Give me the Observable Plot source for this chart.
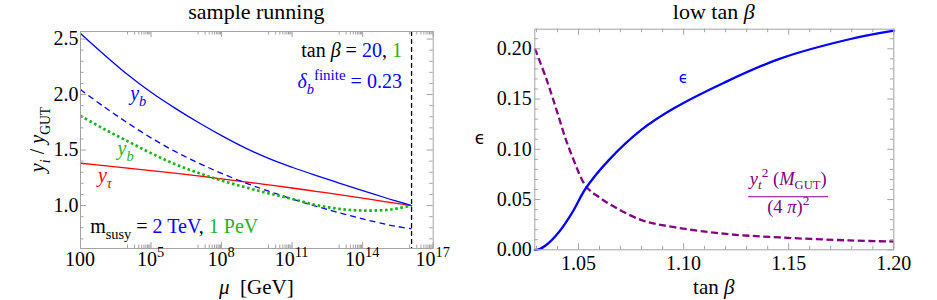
<!DOCTYPE html>
<html>
<head>
<meta charset="utf-8">
<script src="https://cdn.jsdelivr.net/npm/d3@7"></script>
<script src="https://cdn.jsdelivr.net/npm/@observablehq/plot@0.6"></script>
<style>
  html, body { margin: 0; padding: 0; background: #fff; }
  #wrap { display: flex; width: 937px; height: 300px; }
  #wrap svg { display: block; }
</style>
</head>
<body>
<div id="wrap"></div>
<script>
// ---------------- left panel: sample running ----------------
const muGeV      = [1e2, 1e3, 1e4, 1e5, 1e6, 1e7, 1e8, 1e9, 1e10, 1e11, 1e12, 1e13, 1e14, 1e15, 3.2e15, 1.2e16];
const ybSolid    = [2.55, 2.36, 2.18, 2.02, 1.88, 1.75, 1.63, 1.52, 1.425, 1.345, 1.272, 1.203, 1.135, 1.068, 1.036, 1.0];
const ybDashed   = [2.045, 1.89, 1.745, 1.61, 1.49, 1.385, 1.29, 1.205, 1.13, 1.06, 0.995, 0.935, 0.88, 0.83, 0.81, 0.79];
const ybDotted   = [1.808, 1.69, 1.58, 1.472, 1.375, 1.295, 1.225, 1.165, 1.11, 1.06, 1.005, 0.97, 0.955, 0.96, 0.975, 1.0];
const yTauRatio  = [1.381, 1.359, 1.337, 1.315, 1.292, 1.267, 1.241, 1.214, 1.186, 1.158, 1.128, 1.098, 1.066, 1.034, 1.018, 1.0];
const mGUT       = [1.2e16];
const muTickValues = [1e2, 1e5, 1e8, 1e11, 1e14, 1e17];
const muTickLabels = ["100", "10^5", "10^8", "10^11", "10^14", "10^17"];
const ratioTicks   = [1.0, 1.5, 2.0, 2.5];

// ---------------- right panel: low tan beta ----------------
const tanBetaEps = [1.0292, 1.0315, 1.0345, 1.041, 1.047, 1.0534, 1.0643, 1.08, 1.0956, 1.119, 1.1456, 1.1789, 1.2];
const epsilon    = [0, 0.0008, 0.0045, 0.0185, 0.037, 0.061, 0.089, 0.1195, 0.141, 0.166, 0.19, 0.2095, 0.218];
const tanBetaYt  = [1.0292, 1.0347, 1.0394, 1.044, 1.0487, 1.051, 1.0534, 1.056, 1.059, 1.0643, 1.08, 1.0956, 1.119, 1.1456, 1.1789, 1.2];
const ytGutTerm  = [0.2004, 0.170, 0.140, 0.1095, 0.084, 0.0725, 0.0635, 0.058, 0.0535, 0.046, 0.0295, 0.0225, 0.016, 0.0123, 0.0093, 0.0082];
const tanBetaTicks = [1.05, 1.10, 1.15, 1.20];
const epsTicks     = [0.00, 0.05, 0.10, 0.15, 0.20];

// ---------------- styling ----------------
const SERIF  = "'Liberation Serif', 'Times New Roman', serif";
const BLUE   = "#0000ff";
const GREEN  = "#1db31d";
const RED    = "#ff0000";
const PURPLE = "#800080";
const FRAME  = "#a3a3a3";

// rich text helper (real text with tspans for sub/superscripts)
function richText(parts, opt) {
  return (index, scales, values, dims) => {
    const [X, Y] = opt.at(scales, dims);
    const size = opt.size ?? 20;
    const t = d3.create("svg:text")
      .attr("x", X).attr("y", Y)
      .attr("font-family", opt.family ?? SERIF)
      .attr("font-size", size)
      .attr("fill", opt.fill ?? "black")
      .attr("text-anchor", opt.anchor ?? "start")
      .style("white-space", "pre");
    if (opt.rotate) t.attr("transform", `rotate(${opt.rotate} ${X} ${Y})`);
    let shift = 0;
    for (const p of parts) {
      const q = typeof p === "string" ? {t: p} : p;
      const target = q.sub ? (opt.subShift ?? 0.3) * size : q.sup ? -0.42 * size : 0;
      const s = t.append("tspan").text(q.t);
      if (target !== shift) s.attr("dy", target - shift);
      shift = target;
      if (q.sub || q.sup) s.attr("font-size", size * (q.scale ?? 0.72));
      if (q.i) s.attr("font-style", "italic");
      if (q.fill) s.attr("fill", q.fill);
      if (q.family) s.attr("font-family", q.family);
      if (q.dx) s.attr("dx", q.dx);
    }
    return t.node();
  };
}
const frameCenterX = (d) => d.marginLeft + (d.width - d.marginLeft - d.marginRight) / 2;

function frameTicks(xMajor, xMinor, yMajor, yMinor, fw, fh, maj = 6, min = 3.5) {
  const o = {stroke: FRAME, strokeWidth: 1};
  return [
    Plot.ruleX(xMajor, {...o, x: d => d, insetTop: fh - maj}),
    Plot.ruleX(xMajor, {...o, x: d => d, insetBottom: fh - maj}),
    Plot.ruleX(xMinor, {...o, x: d => d, insetTop: fh - min}),
    Plot.ruleX(xMinor, {...o, x: d => d, insetBottom: fh - min}),
    Plot.ruleY(yMajor, {...o, y: d => d, insetRight: fw - maj}),
    Plot.ruleY(yMajor, {...o, y: d => d, insetLeft: fw - maj}),
    Plot.ruleY(yMinor, {...o, y: d => d, insetRight: fw - min}),
    Plot.ruleY(yMinor, {...o, y: d => d, insetLeft: fw - min})
  ];
}

// ================= LEFT =================
const L = {width: 470, height: 300, ml: 80, mr: 37.3, mt: 31, mb: 52};
const Lfw = L.width - L.ml - L.mr, Lfh = L.height - L.mt - L.mb;
const leftRows = muGeV.map((m, i) => ({mu: m, solid: ybSolid[i], dashed: ybDashed[i], dotted: ybDotted[i], tau: yTauRatio[i]}));
const muMinor = muTickValues.slice(1).flatMap(v => d3.range(1, 10).map(k => k * v / 10));
const ratioMinor = d3.range(7, 26).map(k => k / 10).filter(v => Math.abs(v * 2 - Math.round(v * 2)) > 1e-6);

const left = Plot.plot({
  width: L.width, height: L.height,
  marginLeft: L.ml, marginRight: L.mr, marginTop: L.mt, marginBottom: L.mb,
  x: {type: "log", domain: [1e2, 1e17], axis: null},
  y: {domain: [0.613, 2.568], axis: null},
  style: {fontFamily: SERIF, fontSize: "20px", background: "white", overflow: "visible"},
  marks: [
    Plot.line(leftRows, {x: "mu", y: "tau", stroke: RED, strokeWidth: 1.3, curve: "catmull-rom"}),
    Plot.line(leftRows, {x: "mu", y: "dashed", stroke: BLUE, strokeWidth: 1.3, strokeDasharray: "6,4", strokeLinecap: "butt", curve: "catmull-rom"}),
    Plot.line(leftRows, {x: "mu", y: "solid", stroke: BLUE, strokeWidth: 1.3, curve: "catmull-rom"}),
    Plot.line(leftRows, {x: "mu", y: "dotted", stroke: GREEN, strokeWidth: 2.7, strokeDasharray: "2.6,2.6", strokeLinecap: "butt", curve: "catmull-rom"}),
    Plot.ruleX(mGUT, {x: d => d, stroke: "black", strokeWidth: 1.3, strokeDasharray: "5,3", strokeLinecap: "butt"}),
    ...frameTicks(muTickValues, muMinor, ratioTicks, ratioMinor, Lfw, Lfh),
    Plot.frame({stroke: FRAME, strokeWidth: 1}),
    Plot.axisY(ratioTicks, {anchor: "left", tickSize: 0, tickPadding: 2, tickFormat: d3.format(".1f"), label: null, fontSize: 20, fill: "black"}),
    // x tick labels with superscripts
    ...muTickValues.map((v, i) => {
      const [base, exp] = muTickLabels[i].split("^");
      const parts = exp ? [{t: base}, {t: exp, sup: true, scale: 0.72}] : [{t: base}];
      return richText(parts, {at: (s, d) => [s.x(v), d.height - d.marginBottom + 17.5], anchor: "middle", size: 20});
    }),
    // titles & axis labels
    richText([{t: "sample running"}], {at: (s, d) => [frameCenterX(d), 18.5], anchor: "middle", size: 22}),
    richText([{t: "μ", i: true}, {t: "\u00a0\u00a0[GeV]"}], {at: (s, d) => [frameCenterX(d), 294], anchor: "middle", size: 21}),
    richText([{t: "y", i: true}, {t: "i", i: true, sub: true}, {t: " / "}, {t: "y", i: true}, {t: "GUT", sub: true, scale: 0.68}],
             {at: (s, d) => [44, d.marginTop + (d.height - d.marginTop - d.marginBottom) / 2], anchor: "middle", size: 20, rotate: -90}),
    // curve labels
    richText([{t: "y", i: true}, {t: "b", i: true, sub: true}], {at: (s) => [s.x(3e4), s.y(1.946)], anchor: "middle", size: 20, fill: BLUE}),
    richText([{t: "y", i: true}, {t: "b", i: true, sub: true}], {at: (s) => [s.x(8.7e3), s.y(1.45)], anchor: "middle", size: 20, fill: GREEN}),
    richText([{t: "y", i: true}, {t: "τ", i: true, sub: true}], {at: (s) => [s.x(1.15e3), s.y(1.207)], anchor: "middle", size: 20, fill: RED}),
    // annotations
    richText([{t: "tan "}, {t: "β", i: true}, {t: " = "}, {t: "20", fill: BLUE}, {t: ", "}, {t: "1", fill: GREEN}],
             {at: (s) => [s.x(4.9e15), s.y(2.336)], anchor: "end", size: 20}),
    richText([{t: "δ", i: true}, {t: "b", i: true, sub: true}, {t: "finite", sup: true, scale: 0.75}, {t: " = 0.23"}],
             {at: (s) => [s.x(4.9e15), s.y(2.054)], anchor: "end", size: 20, fill: BLUE}),
    richText([{t: "m"}, {t: "susy", sub: true, scale: 0.72}, {t: " = "}, {t: "2 TeV", fill: BLUE}, {t: ", "}, {t: "1 PeV", fill: GREEN}],
             {at: (s) => [s.x(2.7e2), s.y(0.748)], anchor: "start", size: 20})
  ]
});

// ================= RIGHT =================
const R = {width: 467, height: 300, ml: 64.3, mr: 43.7, mt: 28.7, mb: 50.7};
const Rfw = R.width - R.ml - R.mr, Rfh = R.height - R.mt - R.mb;
const epsRows = tanBetaEps.map((t, i) => ({tb: t, v: epsilon[i]}));
const ytRows = tanBetaYt.map((t, i) => ({tb: t, v: ytGutTerm[i]}));
const tbMinor = d3.range(103, 121).map(k => k / 100).filter(v => !tanBetaTicks.some(t => Math.abs(t - v) < 1e-6));
const epsMinor = d3.range(0, 22).map(k => k / 100).filter(v => !epsTicks.some(t => Math.abs(t - v) < 1e-6));

const right = Plot.plot({
  width: R.width, height: R.height,
  marginLeft: R.ml, marginRight: R.mr, marginTop: R.mt, marginBottom: R.mb,
  x: {domain: [1.0292, 1.2], label: null},
  y: {domain: [0, 0.2195], label: null},
  style: {fontFamily: SERIF, fontSize: "20px", background: "white", overflow: "visible"},
  marks: [
    Plot.line(ytRows, {x: "tb", y: "v", stroke: PURPLE, strokeWidth: 2.3, strokeDasharray: "7,3.5", strokeLinecap: "butt", curve: "catmull-rom"}),
    Plot.line(epsRows, {x: "tb", y: "v", stroke: BLUE, strokeWidth: 2.3, curve: "catmull-rom"}),
    ...frameTicks(tanBetaTicks, tbMinor, epsTicks, epsMinor, Rfw, Rfh),
    Plot.frame({stroke: FRAME, strokeWidth: 1}),
    Plot.axisY(epsTicks, {anchor: "left", tickSize: 0, tickPadding: 3, tickFormat: d3.format(".2f"), label: null, fontSize: 20, fill: "black"}),
    Plot.axisX(tanBetaTicks, {anchor: "bottom", tickSize: 0, tickPadding: 6, tickFormat: d3.format(".2f"), label: null, fontSize: 20, fill: "black"}),
    richText([{t: "low tan "}, {t: "β", i: true}], {at: (s, d) => [frameCenterX(d), 18.5], anchor: "middle", size: 22}),
    richText([{t: "tan "}, {t: "β", i: true}], {at: (s, d) => [frameCenterX(d), 294], anchor: "middle", size: 21}),
    richText([{t: "ϵ"}], {at: (s, d) => [10, d.marginTop + (d.height - d.marginTop - d.marginBottom) / 2 + 5], anchor: "middle", size: 17, family: "'DejaVu Sans', sans-serif"}),
    richText([{t: "ϵ"}], {at: (s) => [s.x(1.1001), s.y(0.1653)], anchor: "middle", size: 15, fill: BLUE, family: "'DejaVu Sans', sans-serif"}),
    // fraction label
    (index, s, v, d) => {
      const cx = s.x(1.15), cy = s.y(0.0523);
      const g = d3.create("svg:g");
      g.append("line").attr("x1", cx - 40).attr("x2", cx + 40).attr("y1", cy).attr("y2", cy)
        .attr("stroke", PURPLE).attr("stroke-width", 1);
      g.append(() => richText([{t: "y", i: true}, {t: "t", i: true, sub: true}, {t: "2", sup: true}, {t: " ("}, {t: "M", i: true}, {t: "GUT", sub: true, scale: 0.68}, {t: ")"}],
        {at: () => [cx, cy - 12], anchor: "middle", size: 18.5, fill: PURPLE, subShift: 0.22})(index, s, v, d));
      g.append(() => richText([{t: "(4 "}, {t: "π", i: true}, {t: ")"}, {t: "2", sup: true}],
        {at: () => [cx, cy + 16.5], anchor: "middle", size: 18.5, fill: PURPLE})(index, s, v, d));
      return g.node();
    }
  ]
});

const wrap = document.getElementById("wrap");
wrap.appendChild(left);
wrap.appendChild(right);
</script>
</body>
</html>
